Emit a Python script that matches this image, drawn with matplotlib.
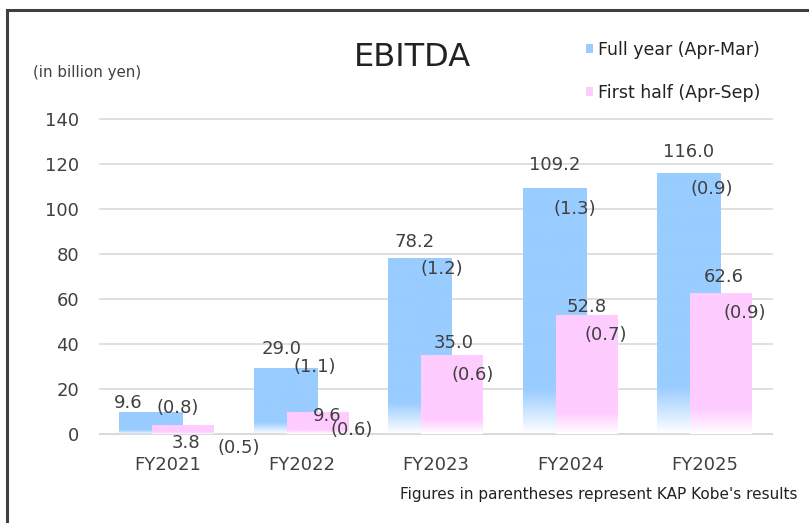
import numpy as np
import matplotlib
matplotlib.use("Agg")
import matplotlib.pyplot as plt
from matplotlib.patches import Patch, Rectangle

# ================= DATOS =================
years = ["FY2021", "FY2022", "FY2023", "FY2024", "FY2025"]
full_year = [9.6, 29.0, 78.2, 109.2, 116.0]
first_half = [3.8, 9.6, 35.0, 52.8, 62.6]
full_kobe = ["(0.8)", "(1.1)", "(1.2)", "(1.3)", "(0.9)"]
half_kobe = ["(0.5)", "(0.6)", "(0.6)", "(0.7)", "(0.9)"]

# posiciones de etiquetas (desplazamiento respecto a la barra / categoría)
full_val_dx = [-0.29, -0.15, -0.16, -0.115, -0.12]
full_val_dy = [4.2, 8.8, 7.1, 10.4, 9.3]
full_par_dx = [0.08, 0.10, 0.04, 0.03, 0.05]
full_par_dy = [2.0, 0.8, -4.9, -9.2, -7.1]
half_val_dx = [0.14, 0.19, 0.13, 0.12, 0.14]
half_val_dy = [-7.8, -1.6, 5.4, 3.6, 7.2]
half_par_dx = [0.53, 0.37, 0.27, 0.26, 0.30]
half_par_dy = [-10.0, -7.8, -8.8, -8.8, -8.8]

BLUE = "#99CCFF"
PINK = "#FFCCFF"
TXT = "#404040"

plt.rcParams["font.family"] = ["DejaVu Sans"]

fig = plt.figure(figsize=(8.09, 5.23), dpi=100)
ax = fig.add_axes([100 / 809, (523 - 434) / 523, 672 / 809, 315 / 523])

x = np.arange(len(years))
bars_full = ax.bar(x - 0.12, full_year, width=0.47, color="none", zorder=2)
bars_half = ax.bar(x + 0.12, first_half, width=0.46, color="none", zorder=3)


def gradient_fill(bars, color, z):
    rgb = np.array(matplotlib.colors.to_rgb(color))
    t = np.linspace(0, 1, 200)
    frac = np.clip(t / 0.18, 0, 1)[:, None]
    img = (1 - frac) * np.ones(3) + frac * rgb
    img = img[:, None, :]
    for b in bars:
        bx, by, bw, bh = b.get_x(), b.get_y(), b.get_width(), b.get_height()
        ax.imshow(img, extent=[bx, bx + bw, by, by + bh], origin="lower",
                  aspect="auto", zorder=z, interpolation="bilinear")


gradient_fill(bars_full, BLUE, 2)
gradient_fill(bars_half, PINK, 3)

ax.set_xlim(-0.5, 4.5)
ax.set_ylim(0, 140)
ax.set_yticks(range(0, 141, 20))
ax.set_xticks(x)
ax.set_xticklabels(years)
ax.grid(axis="y", color="#D9D9D9", linewidth=1.2, zorder=0)
ax.set_axisbelow(True)
for gl in ax.get_ygridlines():
    gl.set_clip_on(False)
for s in ["top", "right", "left"]:
    ax.spines[s].set_visible(False)
ax.spines["bottom"].set_color("#D9D9D9")
ax.spines["bottom"].set_linewidth(1.2)
ax.tick_params(axis="both", length=0, labelsize=13, colors=TXT)
ax.tick_params(axis="y", pad=15)
ax.tick_params(axis="x", pad=16)

fs = 13
for i in range(len(years)):
    ax.text(i + full_val_dx[i], full_year[i] + full_val_dy[i], f"{full_year[i]:.1f}",
            ha="center", va="center", fontsize=fs, color=TXT, zorder=5)
    ax.text(i + full_par_dx[i], full_year[i] + full_par_dy[i], full_kobe[i],
            ha="center", va="center", fontsize=fs, color=TXT, zorder=5)
    ax.text(i + half_val_dx[i], first_half[i] + half_val_dy[i], f"{first_half[i]:.1f}",
            ha="center", va="center", fontsize=fs, color=TXT, zorder=5)
    ax.text(i + half_par_dx[i], first_half[i] + half_par_dy[i], half_kobe[i],
            ha="center", va="center", fontsize=fs, color=TXT, zorder=5)

# título y textos
fig.text(412 / 809, 1 - 57 / 523, "EBITDA", ha="center", va="center", fontsize=23, color="#222222")
fig.text(33 / 809, 1 - 73 / 523, "(in billion yen)", ha="left", va="center", fontsize=10.8, color=TXT)
fig.text(798 / 809, 1 - 495 / 523, "Figures in parentheses represent KAP Kobe's results",
         ha="right", va="center", fontsize=11, color="#222222")

handles = [Patch(facecolor=BLUE, edgecolor="none", label="Full year (Apr-Mar)"),
           Patch(facecolor=PINK, edgecolor="none", label="First half (Apr-Sep)")]
fig.legend(handles=handles, loc="upper left", bbox_to_anchor=(570 / 809, 1 - 25 / 523),
           frameon=False, fontsize=12.5, handlelength=0.42, handleheight=0.42,
           handletextpad=0.3, labelspacing=1.45, labelcolor="#222222")

# marco exterior
fig.patches.append(Rectangle((7 / 809, -0.05), 1.1, (1 - 10 / 523) + 0.05, transform=fig.transFigure,
                             fill=False, edgecolor="#404040", linewidth=2.2))

fig.savefig("out.png", dpi=100)
